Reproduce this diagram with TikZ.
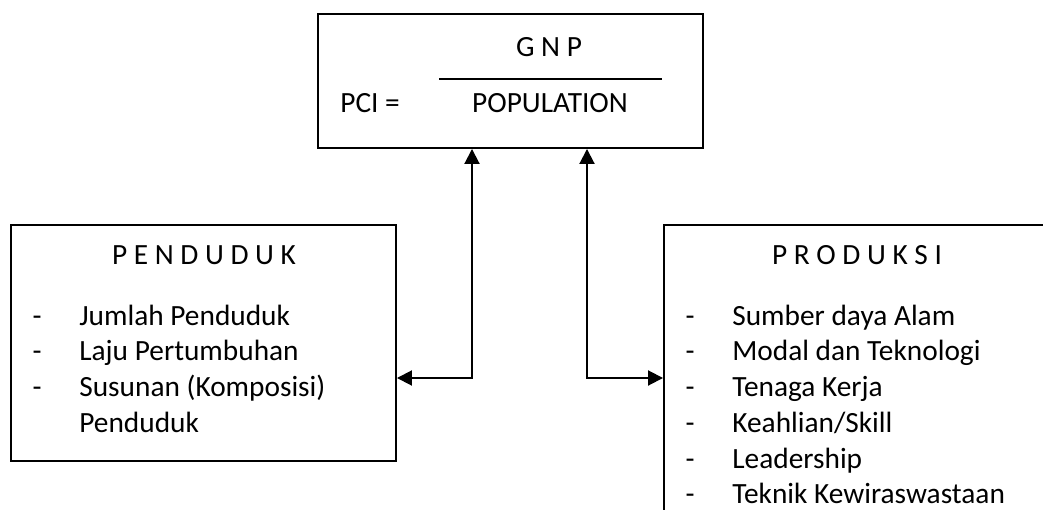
\documentclass[tikz,border=0pt]{standalone}
\usepackage{fontspec}
\setmainfont{Carlito}
\usetikzlibrary{arrows.meta}

\begin{document}
\begin{tikzpicture}
\tikzset{kotak/.style={draw, line width=1.1pt, inner sep=0pt},
  tulisan/.style={font=\fontsize{16.7}{20}\selectfont, inner sep=0pt},
  panah/.style={line width=1.1pt, {Triangle[length=0.3cm, width=0.3cm]}-{Triangle[length=0.3cm, width=0.3cm]}}}
\useasboundingbox (0, 0) rectangle (20.86, 10.18);
\clip (0, 0) rectangle (20.86, 10.18);
% kotak
\node[kotak, minimum width=7.7cm, minimum height=2.68cm] (PCI) at (10.21, 8.56) {};
\node[kotak, minimum width=7.7cm, minimum height=4.72cm] (PEN) at (4.07, 3.32) {};
\node[kotak, minimum width=7.7cm, minimum height=6.4cm] (PRO) at (17.13, 2.48) {};
% rumus
\node[tulisan, anchor=base] (GNP) at (10.98, 9.05) {G N P};
\node[tulisan, anchor=base] (POP) at (11.0, 7.93) {POPULATION};
\node[tulisan, anchor=base west] (SAMA) at (6.80, 7.93) {PCI =};
\draw[line width=0.9pt] (8.78, 8.60) -- (13.24, 8.60);
% penduduk
\node[tulisan, anchor=base] (J1) at (4.08, 4.89) {P E N D U D U K};
\node[tulisan, anchor=base] (d1) at (0.74, 3.68) {-};
\node[tulisan, anchor=base west] (P1) at (1.58, 3.68) {Jumlah Penduduk};
\node[tulisan, anchor=base] (d2) at (0.74, 2.965) {-};
\node[tulisan, anchor=base west] (P2) at (1.58, 2.965) {Laju Pertumbuhan};
\node[tulisan, anchor=base] (d3) at (0.74, 2.25) {-};
\node[tulisan, anchor=base west] (P3) at (1.58, 2.25) {Susunan (Komposisi)};
\node[tulisan, anchor=base west] (P4) at (1.58, 1.535) {Penduduk};
% produksi
\node[tulisan, anchor=base] (J2) at (17.14, 4.89) {P R O D U K S I};
\node[tulisan, anchor=base] (e1) at (13.80, 3.68) {-};
\node[tulisan, anchor=base west] (R1) at (14.64, 3.68) {Sumber daya Alam};
\node[tulisan, anchor=base] (e2) at (13.80, 2.965) {-};
\node[tulisan, anchor=base west] (R2) at (14.64, 2.965) {Modal dan Teknologi};
\node[tulisan, anchor=base] (e3) at (13.80, 2.25) {-};
\node[tulisan, anchor=base west] (R3) at (14.64, 2.25) {Tenaga Kerja};
\node[tulisan, anchor=base] (e4) at (13.80, 1.535) {-};
\node[tulisan, anchor=base west] (R4) at (14.64, 1.535) {Keahlian/Skill};
\node[tulisan, anchor=base] (e5) at (13.80, 0.82) {-};
\node[tulisan, anchor=base west] (R5) at (14.64, 0.82) {Leadership};
\node[tulisan, anchor=base] (e6) at (13.80, 0.105) {-};
\node[tulisan, anchor=base west] (R6) at (14.64, 0.105) {Teknik Kewiraswastaan};
% panah
\coordinate (kiri) at (9.44, 2.62);
\coordinate (kanan) at (11.74, 2.62);
\draw[panah] (PEN.east |- kiri) -- (kiri) -- (kiri |- PCI.south);
\draw[panah] (PRO.west |- kanan) -- (kanan) -- (kanan |- PCI.south);
\end{tikzpicture}
\end{document}
